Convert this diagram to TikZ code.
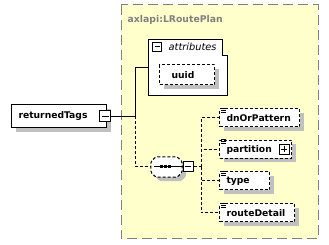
\documentclass[tikz,border=0pt]{standalone}
\usepackage{fontspec}
\setmainfont{DejaVu Sans}
\usetikzlibrary{shadows,calc}

\definecolor{panelfill}{RGB}{255,255,204}
\definecolor{panelline}{RGB}{128,128,128}
\definecolor{shade}{RGB}{192,192,192}

\tikzset{
  shadowed/.style={drop shadow={shadow xshift=4pt, shadow yshift=-4pt, fill=shade, opacity=1}},
  elembox/.style={rectangle, draw=black, fill=white, line width=1pt,
    inner xsep=7pt, inner ysep=0pt, align=left,
    font=\fontsize{9.2}{11}\selectfont\bfseries, shadowed},
  optbox/.style={elembox, dash pattern=on 3pt off 2pt},
  conn/.style={line width=1pt},
  optconn/.style={line width=1pt, dash pattern=on 3pt off 2pt},
  toggle/.style={rectangle, draw=black, fill=white, line width=1pt,
    minimum size=10pt, inner sep=0pt},
  minusbtn/.style={toggle, path picture={
    \draw[line width=1pt] ($(path picture bounding box.west)+(2,0)$) -- ($(path picture bounding box.east)+(-2,0)$);}},
  plusbtn/.style={toggle, path picture={
    \draw[line width=1pt] ($(path picture bounding box.west)+(2,0)$) -- ($(path picture bounding box.east)+(-2,0)$);
    \draw[line width=1pt] ($(path picture bounding box.north)+(0,2)$) -- ($(path picture bounding box.south)+(0,-2)$);}},
  textmark/.style={line width=1pt},
}

\begin{document}
\begin{tikzpicture}[x=1pt, y=-1pt]
\useasboundingbox (0,0) rectangle (329,245);

% complex type panel
\draw[fill=panelfill, draw=panelline, line width=1pt, dash pattern=on 10pt off 5pt]
  (121,5) rectangle (318,239);
\node[anchor=base west, inner sep=0pt, text=panelline,
  font=\fontsize{9.3}{11}\selectfont\bfseries] (ptitle) at (127.5,22.5) {axlapi:LRoutePlan};

% root element
\node[elembox, text width=81pt, minimum height=23pt, anchor=west] (rt) at (11,116.5) {returnedTags};
\node[minusbtn, minimum size=11pt] (rtmin) at (105,116.5) {};

% attribute group
\node[minimum width=78pt, minimum height=55pt, inner sep=0pt] (attrs) at (188,67.5) {};
\draw[fill=white, line width=1pt]
  (attrs.north west) -- ($(attrs.north east)+(-5,0)$) -- ($(attrs.north east)+(-5,16)$)
  -- ($(attrs.north east)+(0,16)$) -- (attrs.south east) -- (attrs.south west) -- cycle;
\node[minusbtn, minimum size=9pt] (attrmin) at (157,47) {};
\node[anchor=base west, inner sep=0pt, font=\fontsize{9.8}{12}\selectfont\itshape] (attrlbl) at (168.5,51) {attributes};
\node[optbox, text width=31pt, inner xsep=12pt, minimum height=20pt, anchor=west] (uuid) at (159,75) {uuid};

% sequence compositor
\node[minimum width=31pt, minimum height=20pt, inner sep=0pt] (seq) at (166.5,167) {};
\draw[fill=white, line width=1pt, dash pattern=on 3pt off 2pt, rounded corners=1.5pt, shadowed]
  ($(seq.north west)+(5,0)$) -- ($(seq.north east)+(-5,0)$) -- ($(seq.north east)+(0,5)$)
  -- ($(seq.south east)+(0,-5)$) -- ($(seq.south east)+(-5,0)$) -- ($(seq.south west)+(5,0)$)
  -- ($(seq.south west)+(0,-5)$) -- ($(seq.north west)+(0,5)$) -- cycle;
\node[minusbtn] (seqmin) at (188,167) {};
\draw[line width=1pt] ($(seq.west)+(3,0)$) -- (seqmin.west);
\foreach \dx in {-5.5,-1.5,2.5}
  \fill ($(seq.center)+(\dx,0)+(-1.5,-1.5)$) rectangle ++(3,3);

% child elements
\node[optbox, text width=66pt, minimum height=18pt, anchor=west] (dn) at (219,118) {dnOrPattern};
\node[optbox, text width=58pt, minimum height=18pt, anchor=west] (part) at (219,149.5) {partition};
\node[plusbtn] (partplus) at (284,149.5) {};
\node[optbox, text width=36pt, minimum height=18pt, anchor=west] (type) at (219,181) {type};
\node[optbox, text width=61pt, minimum height=18pt, anchor=west] (route) at (219,213) {routeDetail};
\foreach \n in {dn,part,type,route}
  \foreach \k in {0,2,4}
    \draw[textmark] ($(\n.north west)+(2,\k)$) -- ++(5,0);

% connectors
\coordinate (fork) at (135,116.5);
\draw[conn] (rtmin.east) -- (fork) |- (attrs.west);
\draw[optconn] (fork) |- (seq.west);
\coordinate (branch) at (201,167);
\draw[optconn] (seqmin.east) -- (branch);
\foreach \n in {dn,part,type,route}
  \draw[optconn] (branch) |- (\n.west);
\end{tikzpicture}
\end{document}
